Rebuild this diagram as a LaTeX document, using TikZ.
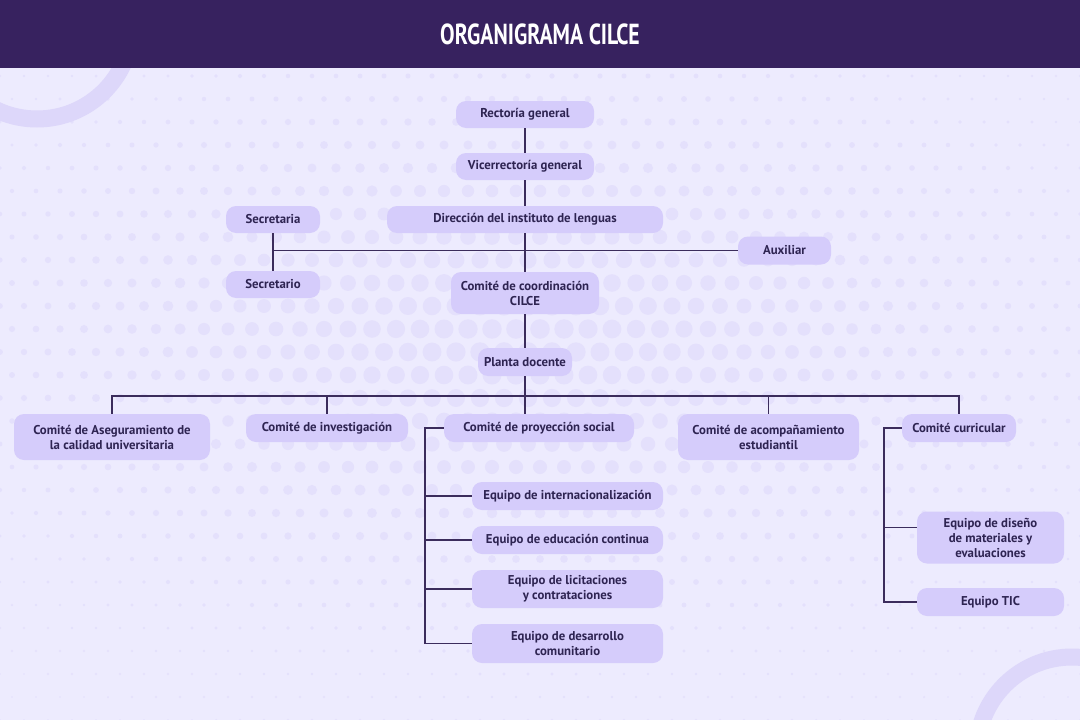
\documentclass[tikz,border=0pt]{standalone}
\usepackage{fontspec}
\setmainfont{PT Sans}
\newfontfamily\titlefont[FakeStretch=0.75]{PT Sans Bold}
\usetikzlibrary{positioning}

\definecolor{headbg}{HTML}{37225F}
\definecolor{pagebg}{HTML}{EDEBFE}
\definecolor{dotfill}{HTML}{E4E0FC}
\definecolor{ringfill}{HTML}{DDD7FA}
\definecolor{boxfill}{HTML}{D5CCFB}
\definecolor{ink}{HTML}{2E2452}
\definecolor{wire}{HTML}{3B2C5C}

\begin{document}
\begin{tikzpicture}[
    x=1pt, y=-1pt,
    box/.style={rounded corners=10pt, fill=boxfill, text=ink, inner sep=0pt,
        minimum height=27pt, align=center,
        font=\bfseries\fontsize{12.8}{15}\selectfont},
    link/.style={draw=wire, line width=1.6pt},
    dot/.style={fill=dotfill}
]
\useasboundingbox (0,0) rectangle (1080,720);
\fill[pagebg] (0,0) rectangle (1080,720);

% background dots
\begin{scope}
\clip (0,68) rectangle (1080,720);
\foreach \i in {0,...,45} {
  \foreach \j in {0,...,28} {
    \pgfmathsetmacro{\px}{\i*24 + 12*mod(\j,2)}
    \pgfmathsetmacro{\py}{76 + \j*23}
    \pgfmathsetmacro{\rr}{0.8 + 9*exp(-(((\px-520)/430)^2 + ((\py-340)/210)^2))}
    \fill[dot] (\px,\py) circle[radius=\rr];
  }
}
\end{scope}

% corner rings
\draw[ringfill, line width=17pt] (37,24) circle[radius=95];
\draw[ringfill, line width=17pt] (1072,752) circle[radius=95];

% header
\fill[headbg] (0,0) rectangle (1080,68);
\node (title) at (540,34) {\titlefont\fontsize{29}{30}\selectfont\color{white}ORGANIGRAMA CILCE};

% top chain
\node[box, minimum width=138pt] (rectoria) at (525,114.5) {Rectoría general};
\node[box, minimum width=138pt] (vicerrectoria) at (525,166.5) {Vicerrectoría general};
\node[box, minimum width=276pt] (direccion) at (525,219.5) {Dirección del instituto de lenguas};
\node[box, minimum width=94pt] (secretaria) at (273,219.5) {Secretaria};
\node[box, minimum width=94pt] (secretario) at (273,284.5) {Secretario};
\node[box, minimum width=93pt, minimum height=28pt] (auxiliar) at (784.5,250.5) {Auxiliar};
\node[box, minimum width=148pt, minimum height=42pt] (coordinacion) at (525,293) {Comité de coordinación\\CILCE};
\node[box, minimum width=94pt, minimum height=28pt] (planta) at (525,362) {Planta docente};

% committees
\node[box, minimum width=196pt, minimum height=46pt] (aseguramiento) at (112,437) {Comité de Aseguramiento de\\la calidad universitaria};
\node[box, minimum width=162pt, minimum height=28pt] (investigacion) at (327,428) {Comité de investigación};
\node[box, minimum width=190pt, minimum height=28pt] (proyeccion) at (539,428) {Comité de proyección social};
\node[box, minimum width=181pt, minimum height=46pt] (acompanamiento) at (768.5,437) {Comité de acompañamiento\\estudiantil};
\node[box, minimum width=114pt, minimum height=28pt] (curricular) at (959,428) {Comité curricular};

% teams
\node[box, minimum width=191pt, minimum height=28pt] (internac) at (567.5,496) {Equipo de internacionalización};
\node[box, minimum width=191pt, minimum height=28pt] (educacion) at (567.5,540) {Equipo de educación continua};
\node[box, minimum width=191pt, minimum height=38pt] (licitaciones) at (567.5,589) {Equipo de licitaciones\\y contrataciones};
\node[box, minimum width=191pt, minimum height=39pt] (desarrollo) at (567.5,643.5) {Equipo de desarrollo\\comunitario};
\node[box, minimum width=147pt, minimum height=52pt] (diseno) at (990.5,537.5) {Equipo de diseño\\de materiales y\\evaluaciones};
\node[box, minimum width=147pt, minimum height=28pt] (tic) at (990.5,602) {Equipo TIC};

\coordinate (staff) at (525,250.5);
\coordinate (bus) at (525,396);

% connectors
\draw[link] (rectoria) -- (vicerrectoria);
\draw[link] (vicerrectoria) -- (direccion);
\draw[link] (direccion) -- (coordinacion);
\draw[link] (secretaria) -- (secretario);
\draw[link] (secretaria.south |- staff) -- (auxiliar.west);
\draw[link] (coordinacion) -- (planta);
\draw[link] (planta) -- (bus);
\draw[link] (aseguramiento.north) |- (bus);
\draw[link] (investigacion.north) |- (bus);
\draw[link] (acompanamiento.north) |- (bus);
\draw[link] (curricular.north) |- (bus);
\draw[link] (bus) -- (bus |- proyeccion.north);

\draw[link] (proyeccion.west) -- ++(-19,0) |- (desarrollo.west);
\draw[link] (internac.west) -- ++(-47,0);
\draw[link] (educacion.west) -- ++(-47,0);
\draw[link] (licitaciones.west) -- ++(-47,0);

\draw[link] (curricular.west) -- ++(-18,0) |- (tic.west);
\draw[link] ([yshift=10pt]diseno.west) -- ++(-33,0);
\end{tikzpicture}
\end{document}
